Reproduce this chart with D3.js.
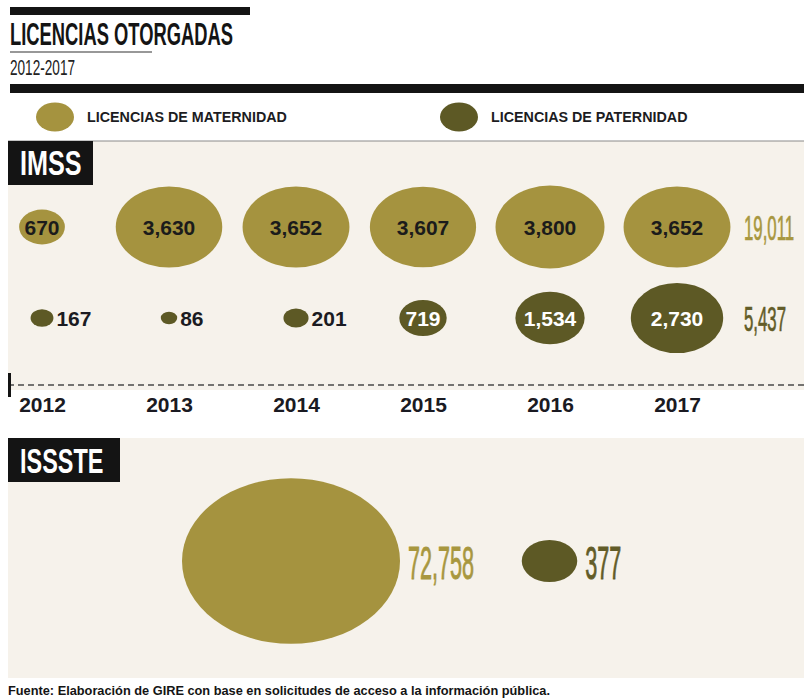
<!DOCTYPE html>
<html>
<head>
<meta charset="utf-8">
<script src="https://cdn.jsdelivr.net/npm/d3@7"></script>
<style>
  body { margin: 0; background: #fff; }
  svg { display: block; font-family: "Liberation Sans", Arial, sans-serif; }
</style>
</head>
<body>
<script>
// data
var years = ["2012", "2013", "2014", "2015", "2016", "2017"];
var maternidadIMSS = [670, 3630, 3652, 3607, 3800, 3652];
var paternidadIMSS = [167, 86, 201, 719, 1534, 2730];
var isssteCats = ["maternidad", "paternidad"];
var isssteValues = [72758, 377];
var legendLabels = ["LICENCIAS DE MATERNIDAD", "LICENCIAS DE PATERNIDAD"];

var w = 804, h = 698;
var gold = "#a5933f", olive = "#5d5925", beige = "#f6f2eb", ink = "#141414";
var fmt = d3.format(",");

var svg = d3.select("body").append("svg")
  .attr("width", w)
  .attr("height", h);

// squeeze text horizontally (the original uses a condensed face)
function condense(sel, k) {
  sel.each(function() {
    var t = d3.select(this);
    var tx = +t.attr("x") || 0, ty = +t.attr("y") || 0;
    t.attr("x", 0).attr("y", 0)
      .attr("transform", "translate(" + tx + "," + ty + ") scale(" + k + ",1)");
  });
}

// header
svg.append("rect").attr("x", 10).attr("y", 7).attr("width", 240).attr("height", 8).attr("fill", ink);
svg.append("text").attr("x", 10).attr("y", 45)
  .attr("font-size", 31).attr("font-weight", "bold").attr("fill", ink)
  .attr("textLength", 223).attr("lengthAdjust", "spacingAndGlyphs")
  .text("LICENCIAS OTORGADAS");
svg.append("line").attr("x1", 10).attr("x2", 152).attr("y1", 52).attr("y2", 52)
  .attr("stroke", "#333").attr("stroke-width", 1.2);
svg.append("text").attr("x", 10).attr("y", 75)
  .attr("font-size", 22).attr("fill", "#222")
  .attr("textLength", 65).attr("lengthAdjust", "spacingAndGlyphs")
  .text("2012-2017");
svg.append("rect").attr("x", 10).attr("y", 84).attr("width", w - 10).attr("height", 9).attr("fill", ink);

// legend
var legendX = d3.scalePoint().domain(legendLabels).range([55, 459]);
var legendColor = d3.scaleOrdinal().domain(legendLabels).range([gold, olive]);
var legend = svg.append("g").selectAll("g")
  .data(legendLabels)
  .join("g")
  .attr("transform", function(d) { return "translate(" + legendX(d) + ",117)"; });
legend.append("ellipse").attr("rx", 19).attr("ry", 14.5).attr("fill", function(d) { return legendColor(d); });
legend.append("text").attr("x", 32).attr("y", 5)
  .attr("font-size", 14.3).attr("font-weight", "bold").attr("fill", "#1c1c22")
  .text(function(d) { return d; });

// IMSS panel
svg.append("rect").attr("x", 8).attr("y", 141).attr("width", w - 8).attr("height", 249).attr("fill", beige);
svg.append("line").attr("x1", 8).attr("x2", w).attr("y1", 141).attr("y2", 141)
  .attr("stroke", "#8a8a8a").attr("stroke-width", 1);
svg.append("rect").attr("x", 8).attr("y", 141).attr("width", 85).attr("height", 44).attr("fill", ink);
svg.append("text").attr("x", 20).attr("y", 175)
  .attr("font-size", 35).attr("font-weight", "bold").attr("fill", "#fff")
  .text("IMSS").call(condense, 0.72);

var x = d3.scalePoint().domain(years).range([42, 677]);
var rowY = d3.scalePoint().domain(["maternidad", "paternidad"]).range([227, 318]);
var r = d3.scaleSqrt().domain([0, 3800]).range([0, 54.5]);
var aspect = 0.76;

var rows = [
  { key: "maternidad", values: maternidadIMSS, fill: gold, inside: "#1b1b1b", total: "#a8973f" },
  { key: "paternidad", values: paternidadIMSS, fill: olive, inside: "#ffffff", total: "#625c28" }
];

rows.forEach(function(row) {
  var data = years.map(function(y, i) { return { year: y, value: row.values[i] }; });
  var g = svg.append("g").attr("class", "row " + row.key);
  var cy = rowY(row.key);

  g.selectAll("ellipse")
    .data(data)
    .join("ellipse")
    .attr("cx", function(d) { return x(d.year); })
    .attr("cy", cy)
    .attr("rx", function(d) { return r(d.value); })
    .attr("ry", function(d) { return r(d.value) * aspect; })
    .attr("fill", row.fill);

  g.selectAll("text.val")
    .data(data)
    .join("text")
    .attr("class", "val")
    .attr("font-size", 21).attr("font-weight", "bold")
    .attr("y", cy + 7.5)
    .attr("x", function(d) { return r(d.value) > 20 ? x(d.year) : x(d.year) + r(d.value) + 3; })
    .attr("text-anchor", function(d) { return r(d.value) > 20 ? "middle" : "start"; })
    .attr("fill", function(d) { return r(d.value) > 20 ? row.inside : "#1b1b22"; })
    .text(function(d) { return fmt(d.value); });

  // row total
  g.append("text")
    .attr("x", 744).attr("y", cy + 13)
    .attr("font-size", 35)
    .attr("fill", row.total)
    .attr("stroke", row.total).attr("stroke-width", 0.7)
    .text(fmt(d3.sum(row.values)))
    .call(condense, 0.48);
});

// year axis
svg.append("line").attr("x1", 8).attr("x2", w).attr("y1", 385).attr("y2", 385)
  .attr("stroke", "#4a4a4a").attr("stroke-width", 1.5).attr("stroke-dasharray", "6,4");
svg.append("rect").attr("x", 8).attr("y", 373).attr("width", 3).attr("height", 24).attr("fill", ink);

var xAxis = d3.axisBottom(x).tickSize(0).tickPadding(12);
var axisG = svg.append("g")
  .attr("class", "x axis")
  .attr("transform", "translate(0,385)")
  .call(xAxis);
axisG.select(".domain").remove();
axisG.selectAll("text")
  .attr("font-family", "'Liberation Sans', Arial, sans-serif")
  .attr("font-size", 21).attr("font-weight", "bold").attr("fill", "#1a1a22");

// ISSSTE panel
svg.append("rect").attr("x", 8).attr("y", 438).attr("width", w - 8).attr("height", 240).attr("fill", beige);
svg.append("rect").attr("x", 8).attr("y", 438).attr("width", 112).attr("height", 44).attr("fill", ink);
svg.append("text").attr("x", 20).attr("y", 473)
  .attr("font-size", 35).attr("font-weight", "bold").attr("fill", "#fff")
  .text("ISSSTE").call(condense, 0.67);

var xI = d3.scalePoint().domain(isssteCats).range([291, 549.5]);
var rI = d3.scalePow().exponent(0.26).domain([0, 72758]).range([0, 109]);
var colorI = d3.scaleOrdinal().domain(isssteCats).range([gold, olive]);
var textColorI = d3.scaleOrdinal().domain(isssteCats).range(["#a8973f", "#625c28"]);
var isssteData = isssteCats.map(function(c, i) { return { cat: c, value: isssteValues[i] }; });

var gI = svg.append("g").attr("class", "issste");
gI.selectAll("ellipse")
  .data(isssteData)
  .join("ellipse")
  .attr("cx", function(d) { return xI(d.cat); })
  .attr("cy", 561)
  .attr("rx", function(d) { return rI(d.value); })
  .attr("ry", function(d) { return rI(d.value) * aspect; })
  .attr("fill", function(d) { return colorI(d.cat); });

gI.selectAll("text")
  .data(isssteData)
  .join("text")
  .attr("x", function(d) { return xI(d.cat) + rI(d.value) + 8; })
  .attr("y", 579)
  .attr("font-size", 46)
  .attr("fill", function(d) { return textColorI(d.cat); })
  .attr("stroke", function(d) { return textColorI(d.cat); })
  .attr("stroke-width", 0.9)
  .text(function(d) { return fmt(d.value); })
  .call(condense, 0.47);

// source note
svg.append("text").attr("x", 8).attr("y", 695)
  .attr("font-size", 13).attr("font-weight", "bold").attr("fill", ink)
  .attr("textLength", 542).attr("lengthAdjust", "spacingAndGlyphs")
  .text("Fuente: Elaboración de GIRE con base en solicitudes de acceso a la información pública.");
</script>
</body>
</html>
